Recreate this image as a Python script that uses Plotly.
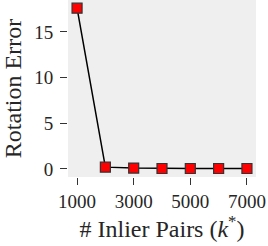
import plotly.graph_objects as go

inlier_pairs = [1000, 2000, 3000, 4000, 5000, 6000, 7000]
rotation_error = [17.6, 0.2, 0.1, 0.05, 0.05, 0.05, 0.05]
x_ticks = [1000, 3000, 5000, 7000]
y_ticks = [0, 5, 10, 15]

font_family = "Liberation Serif, DejaVu Serif, serif"

fig = go.Figure()
fig.add_trace(go.Scatter(
    x=inlier_pairs, y=rotation_error, mode="lines+markers",
    line=dict(color="black", width=1.5),
    marker=dict(symbol="square", size=10, color="#FF0000",
                line=dict(color="#333333", width=1.2)),
    cliponaxis=False, showlegend=False, hoverinfo="skip",
))

fig.update_layout(
    width=268, height=246,
    margin=dict(l=68, r=12, t=0, b=69),
    paper_bgcolor="white", plot_bgcolor="#EFEFEF",
    font=dict(family=font_family, color="#262626"),
    xaxis=dict(
        range=[680, 7320], tickvals=x_ticks, ticktext=[str(v) for v in x_ticks],
        showgrid=False, zeroline=False, showline=False,
        ticks="outside", ticklen=7, tickwidth=1, tickcolor="#333333",
        tickfont=dict(size=19, family=font_family),
        title=dict(text="# Inlier Pairs (<i>k</i><sup>*</sup>)", font=dict(size=24, family=font_family), standoff=6),
    ),
    yaxis=dict(
        range=[-0.88, 18.5], tickvals=y_ticks, ticktext=[str(v) for v in y_ticks],
        showgrid=False, zeroline=False, showline=False,
        ticks="outside", ticklen=7, tickwidth=1, tickcolor="#333333",
        tickfont=dict(size=19, family=font_family),
        ticklabelstandoff=3,
        title=dict(text="Rotation Error", font=dict(size=24, family=font_family), standoff=6),
    ),
)

fig.write_html("out.html", config={"displayModeBar": False, "staticPlot": True},
               post_script="document.body.style.margin='0';document.body.style.padding='0';")
